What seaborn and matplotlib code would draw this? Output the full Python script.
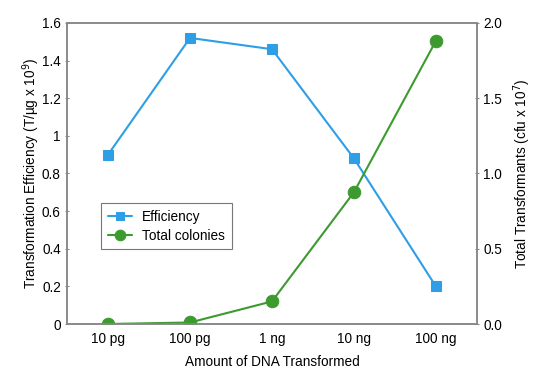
import matplotlib
matplotlib.use("Agg")
import matplotlib.pyplot as plt
import seaborn as sns
import pandas as pd
from matplotlib.ticker import FixedLocator

categories = ["10 pg", "100 pg", "1 ng", "10 ng", "100 ng"]
efficiency = [0.90, 1.52, 1.46, 0.88, 0.20]
total_colonies = [0.0, 0.01, 0.15, 0.875, 1.88]

sns.set_style("white")
plt.rcParams['font.family'] = ['Liberation Sans', 'DejaVu Sans']
plt.rcParams['font.size'] = 9.8
plt.rcParams['text.color'] = 'black'
plt.rcParams['axes.labelcolor'] = 'black'
plt.rcParams['xtick.color'] = 'black'
plt.rcParams['ytick.color'] = 'black'

df = pd.DataFrame({"pos": range(len(categories)), "cat": categories,
                   "eff": efficiency, "tot": total_colonies})

fig, ax = plt.subplots(figsize=(5.5, 3.75), dpi=100)
fig.subplots_adjust(left=0.122, right=0.867, top=0.939, bottom=0.136)
ax2 = ax.twinx()

blue = "#2e9ee6"
green = "#3c9a2f"
sns.lineplot(data=df, x="pos", y="eff", ax=ax, color=blue, marker="s",
             markersize=7, markeredgecolor=blue, linewidth=1.5, label="Efficiency", legend=False)
sns.lineplot(data=df, x="pos", y="tot", ax=ax2, color=green, marker="o",
             markersize=9, markeredgecolor=green, linewidth=1.5, label="Total colonies", legend=False)

fs = 9.8
ax.set_xlim(-0.5, len(categories) - 0.5)
ax.set_ylim(0, 1.6)
ax2.set_ylim(0, 2.0)
ax.set_yticks([0, 0.2, 0.4, 0.6, 0.8, 1.0, 1.2, 1.4, 1.6])
ax.set_yticklabels(["0", "0.2", "0.4", "0.6", "0.8", "1", "1.2", "1.4", "1.6"])
ax2.set_yticks([0, 0.5, 1.0, 1.5, 2.0])
ax2.set_yticklabels(["0.0", "0.5", "1.0", "1.5", "2.0"])
ax.set_xticks(range(len(categories)))
ax.set_xticklabels(categories)
ax.xaxis.set_minor_locator(FixedLocator([i + 0.5 for i in range(len(categories) - 1)]))
ax.tick_params(axis="x", which="major", length=0, pad=6, labelsize=fs)
ax.tick_params(axis="x", which="minor", length=4, direction="in", color="#888888", width=1)
ax.tick_params(axis="y", length=3, direction="inout", color="#888888", labelsize=fs, pad=3)
ax2.tick_params(axis="y", length=3, direction="inout", color="#888888", labelsize=fs, pad=3)

for a in (ax, ax2):
    for s in a.spines.values():
        s.set_color("#8a8a8a")
        s.set_linewidth(1.2)

ax.set_xlabel("Amount of DNA Transformed", fontsize=fs, labelpad=6)
ax.set_ylabel("Transformation Efficiency (T/µg x 10$^9$)", fontsize=fs, labelpad=0)
ax2.set_ylabel("Total Transformants (cfu x 10$^7$)", fontsize=fs, labelpad=7)

h1, l1 = ax.get_legend_handles_labels()
h2, l2 = ax2.get_legend_handles_labels()
leg = ax.legend(h1 + h2, l1 + l2, loc="upper left", bbox_to_anchor=(0.083, 0.402),
                borderaxespad=0, fancybox=False, framealpha=1, edgecolor="#777777",
                fontsize=fs, handlelength=1.8, handletextpad=0.7, borderpad=0.5,
                labelspacing=0.35, markerscale=0.85)
leg.get_frame().set_linewidth(0.8)

fig.savefig("out.png", dpi=100)
